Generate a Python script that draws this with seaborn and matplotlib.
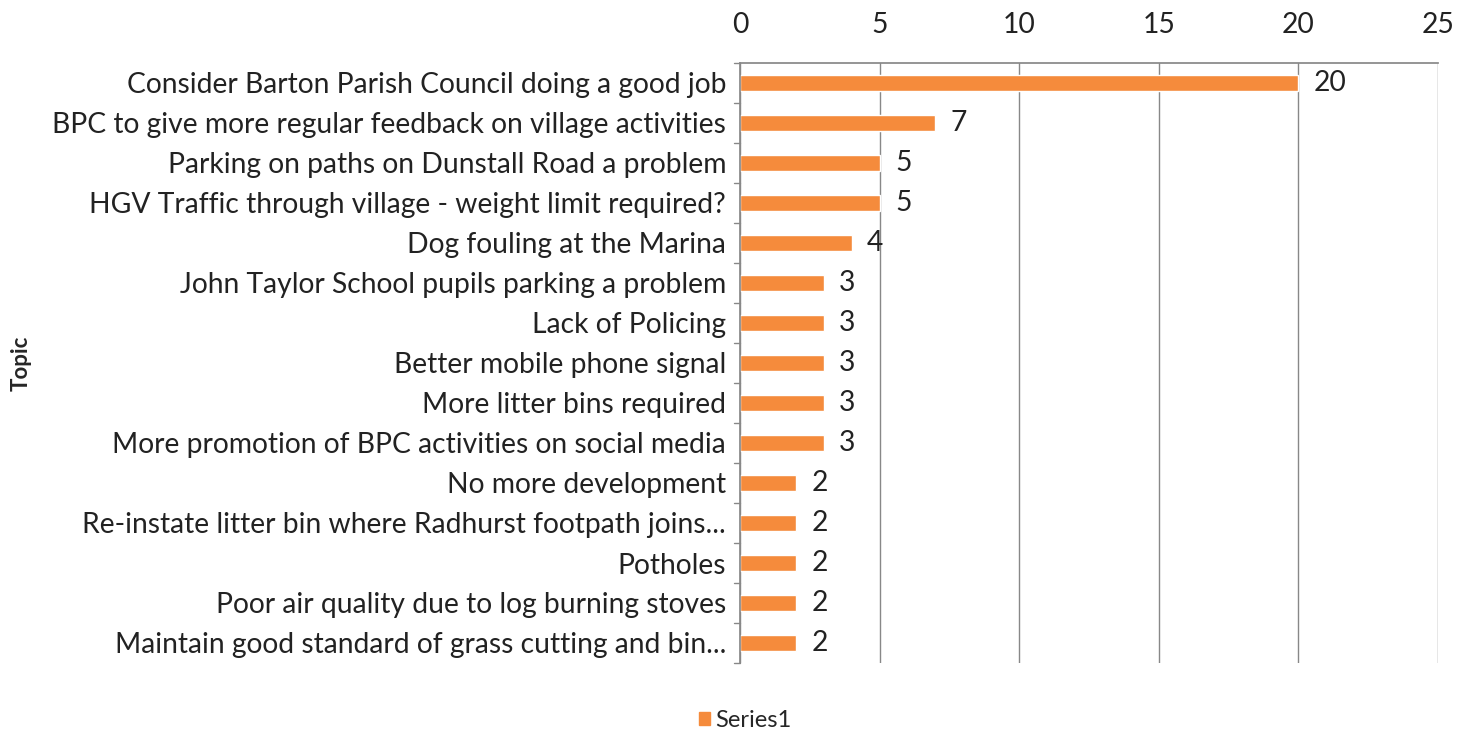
import matplotlib
matplotlib.use("Agg")
import matplotlib.pyplot as plt
import seaborn as sns
import pandas as pd
from matplotlib.patches import Patch

topics = [
    "Consider Barton Parish Council doing a good job",
    "BPC to give more regular feedback on village activities",
    "Parking on paths on Dunstall Road a problem",
    "HGV Traffic through village - weight limit required?",
    "Dog fouling at the Marina",
    "John Taylor School pupils parking a problem",
    "Lack of Policing",
    "Better mobile phone signal",
    "More litter bins required",
    "More promotion of BPC activities on social media",
    "No more development",
    "Re-instate litter bin where Radhurst footpath joins...",
    "Potholes",
    "Poor air quality due to log burning stoves",
    "Maintain good standard of grass cutting and bin...",
]
counts = [20, 7, 5, 5, 4, 3, 3, 3, 3, 3, 2, 2, 2, 2, 2]
x_ticks = [0, 5, 10, 15, 20, 25]

sns.set_theme(style="white")
plt.rcParams['font.family'] = ['Lato', 'DejaVu Sans']

df = pd.DataFrame({"Topic": topics, "Count": counts})
color = "#F58B3C"
fs = 20.3

fig = plt.figure(figsize=(14.58, 7.36), dpi=100)
ax = fig.add_axes([740/1458, 1 - 663/736, 698/1458, 600/736])

sns.barplot(data=df, y="Topic", x="Count", orient="h", color=color,
            width=0.38, ax=ax, saturation=1)

ax.set_xlim(0, 25)
ax.set_ylim(len(topics) - 0.5, -0.5)
ax.set_xticks(x_ticks)
ax.xaxis.tick_top()
ax.tick_params(axis='x', labelsize=fs, colors='#222222', length=0, pad=18)
ax.tick_params(axis='y', labelsize=fs, colors='#222222', length=0, pad=10)
ax.set_xlabel("")
ax.set_ylabel("Topic", fontsize=16, fontweight='bold')
ax.yaxis.set_label_coords(-(740 - 32) / 698, 0.5)
ax.xaxis.grid(True, color='#888888', linewidth=1)
ax.set_axisbelow(True)
for s in ["right", "bottom"]:
    ax.spines[s].set_visible(False)
ax.spines["top"].set_color('#888888')
ax.spines["left"].set_color('#888888')

# small category boundary ticks on left spine
for i in range(len(topics) + 1):
    ax.plot([-0.2, 0], [i - 0.5, i - 0.5], color='#888888', lw=1, clip_on=False)

for i, v in enumerate(counts):
    ax.text(v + 0.55, i, str(v), va='center', ha='left', fontsize=fs, color='#222222')

fig.legend(handles=[Patch(color=color, label="Series1")], loc='lower center',
           bbox_to_anchor=(745/1458, -0.022), frameon=False, fontsize=17,
           handlelength=0.5, handleheight=0.5, handletextpad=0.2)

fig.savefig("out.png", dpi=100, facecolor='white')
